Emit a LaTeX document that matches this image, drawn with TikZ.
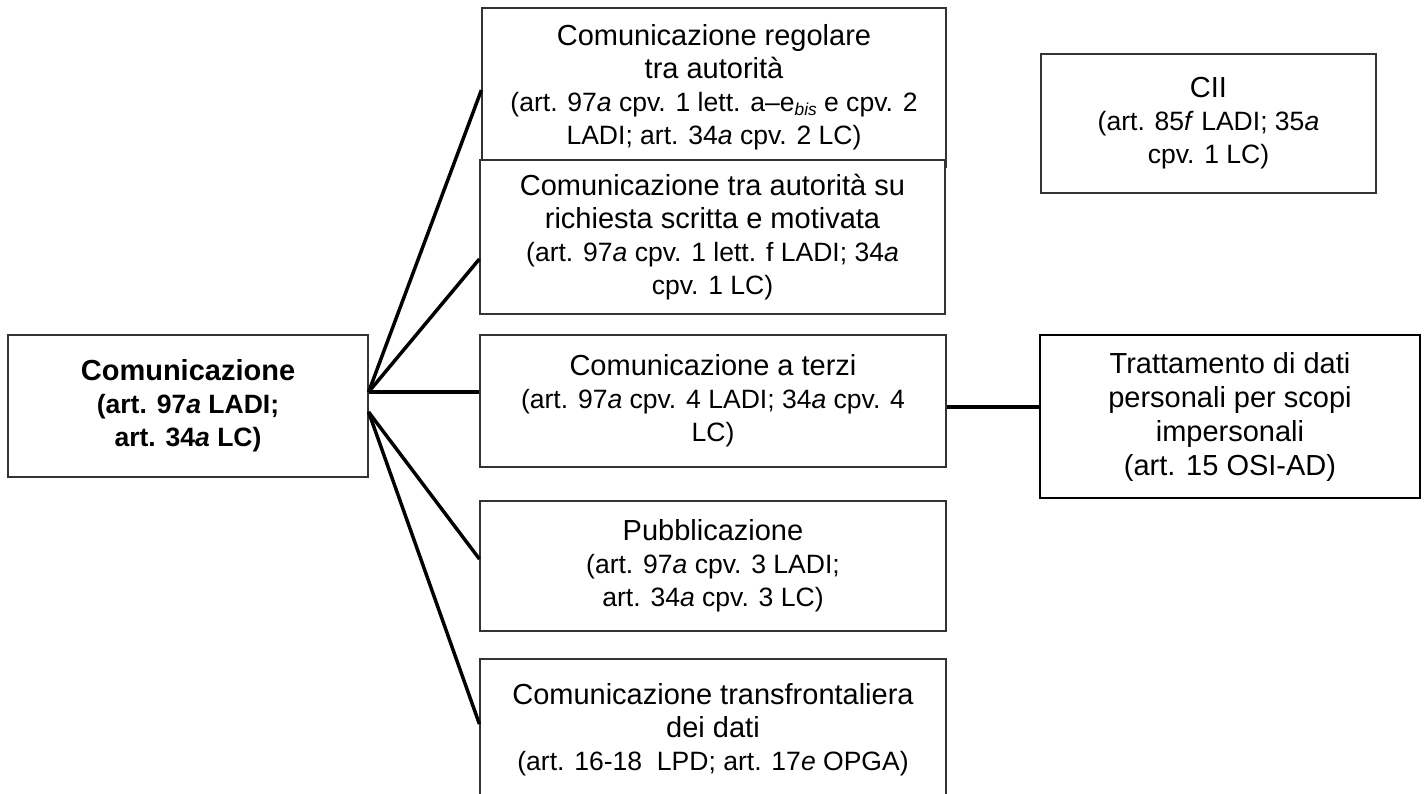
\documentclass[tikz,border=0pt]{standalone}
\usepackage{fontspec}
\setmainfont{Liberation Sans}
\usetikzlibrary{calc}
\newcommand\tf{\fontsize{21.75}{24.75}\selectfont}
\newcommand\nf{\fontsize{19.9}{24.75}\selectfont}
\newcommand\bisx{\raisebox{-0.3ex}{\fontsize{13}{13}\selectfont\itshape bis}}
\begin{document}
\begin{tikzpicture}[x=0.75pt,y=-0.75pt,
  bx/.style 2 args={draw=black!80, line width=0.9pt, fill=white, inner sep=0pt, align=center,
    font=\nf, minimum width=#1*0.75pt, minimum height=#2*0.75pt},
  conn/.style={line width=2.6pt, black}]
\useasboundingbox[fill=white] (0,0) rectangle (1425,793);
\node[bx={360}{142}, font=\nf\bfseries] (L) at (188,406) {\rule{0pt}{9pt}{\tf Comunicazione}\\ (art. 97\textit{a} LADI;\\ art. 34\textit{a} LC)};
\node[bx={464}{159}] (b1) at (714,87.5) {{\tf Comunicazione regolare}\\ {\tf tra autorità}\\ (art. 97\textit{a} cpv. 1 lett. a--e\bisx{} e cpv. 2\\ LADI; art. 34\textit{a} cpv. 2 LC)};
\node[bx={465}{154}] (b2) at (712.5,237) {\rule{0pt}{8pt}{\tf Comunicazione tra autorità su}\\ {\tf richiesta scritta e motivata}\\ (art. 97\textit{a} cpv. 1 lett. f LADI; 34\textit{a}\\ cpv. 1 LC)};
\node[bx={466}{132}] (b3) at (713,401) {{\tf Comunicazione a terzi}\\ (art. 97\textit{a} cpv. 4 LADI; 34\textit{a} cpv. 4\\ LC)};
\node[bx={466}{130}] (b4) at (713,566) {{\tf Pubblicazione}\\ (art. 97\textit{a} cpv. 3 LADI;\\ art. 34\textit{a} cpv. 3 LC)};
\node[bx={466}{141}] (b5) at (713,729.5) {{\tf Comunicazione transfrontaliera}\\ {\tf dei dati}\\ (art. 16-18\ \ LPD; art. 17\textit{e} OPGA)};
\node[bx={335}{139}] (cii) at (1208.5,123.5) {{\tf CII}\\ (art. 85\textit{f} LADI; 35\textit{a}\\ cpv. 1 LC)};
\node[bx={380}{163}, draw=black, line width=1.9pt, font={\fontsize{21.75}{25.5}\selectfont}] (T) at (1230,416.5) {Trattamento di dati\\ personali per scopi\\ impersonali\\ (art. 15 OSI-AD)};
\coordinate (o1) at ([yshift=10.5pt]L.east);
\coordinate (o2) at ([yshift=-4.5pt]L.east);
\draw[conn] (o1) -- ([yshift=-1.9pt]b1.west);
\draw[conn] (o1) -- ([yshift=-16.5pt]b2.west);
\draw[conn] (o1) -- (o1 -| b3.west);
\draw[conn] (o2) -- ([yshift=5.25pt]b4.west);
\draw[conn] (o2) -- ([yshift=4.1pt]b5.west);
\coordinate (t1) at ([yshift=-4.5pt]b3.east);
\draw[conn] (t1) -- (t1 -| T.west);
\end{tikzpicture}
\end{document}
